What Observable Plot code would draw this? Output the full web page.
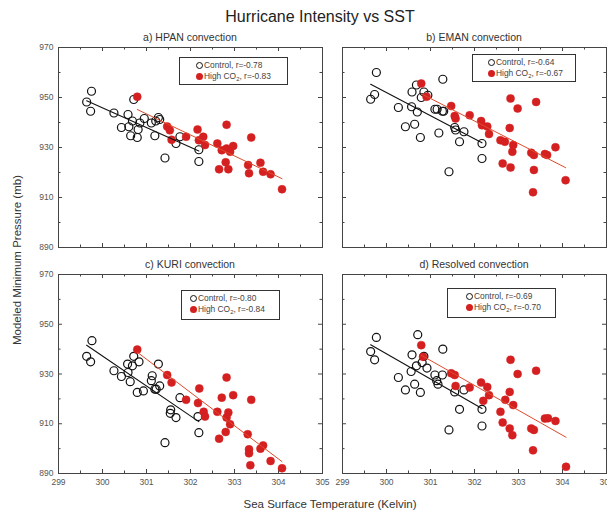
<!DOCTYPE html>
<html>
<head>
<meta charset="utf-8">
<script src="https://cdn.jsdelivr.net/npm/d3@7"></script>
<script src="https://cdn.jsdelivr.net/npm/@observablehq/plot@0.6"></script>
<style>
  html, body { margin: 0; padding: 0; background: #fff; }
  #wrap { position: relative; width: 607px; height: 523px; font-family: "Liberation Sans", Arial, sans-serif; color: #222; overflow: hidden; }
  .abs { position: absolute; }
  .title { left: 0; width: 640px; top: 8px; text-align: center; font-size: 16px; }
  .ptitle { font-size: 10.5px; text-align: center; color: #333; line-height: 12px; }
  .legend { border: 1px solid #333; background: #fff; font-size: 8.4px; color: #444; box-sizing: border-box; }
  .row { position: absolute; white-space: nowrap; line-height: 10px; }
  .sym { display: inline-block; width: 7px; height: 7px; border-radius: 50%; box-sizing: border-box; vertical-align: -1px; margin-right: 1px; }
  .sym.c { border: 1.3px solid #111; }
  .sym.h { background: #d42020; }
  sub { font-size: 6px; vertical-align: -1.5px; }
  .xlabel { left: 130px; width: 400px; top: 498px; text-align: center; font-size: 11.5px; color: #333; }
  .ylabel { left: 17px; top: 260px; transform: translate(-50%, -50%) rotate(-90deg); white-space: nowrap; font-size: 11.5px; color: #333; }
</style>
</head>
<body>
<div id="wrap"></div>
<script>
// ---------- data (SST in Kelvin, minimum pressure in mb) ----------
const panelTitles = ["a) HPAN convection", "b) EMAN convection", "c) KURI convection", "d) Resolved convection"];
const controlR = ["-0.78", "-0.64", "-0.80", "-0.69"];
const highR = ["-0.83", "-0.67", "-0.84", "-0.70"];
const xTicks = [299, 300, 301, 302, 303, 304, 305];
const xMinorTicks = [299.5, 300.5, 301.5, 302.5, 303.5, 304.5];
const yTicks = [890, 910, 930, 950, 970];
const yMinorTicks = [900, 920, 940, 960];

const hpanControl = [[299.64,948.2],[299.75,952.5],[299.73,944.5],[300.26,943.8],[300.58,943.2],[300.71,949.2],[300.43,938],[300.6,938.3],[300.64,934.7],[300.79,934],[300.81,937.2],[300.68,940.6],[300.85,939.8],[300.95,941.6],[301.11,939.8],[301.21,940.6],[301.27,942],[301.3,941.2],[301.19,934.7],[301.42,925.8],[301.67,931.6],[301.76,934.3],[302.19,929.1],[302.19,924.4]];
const hpanHigh = [[300.79,950.3],[301.47,938.4],[301.53,936.9],[301.57,933.1],[301.9,934.3],[302.16,937.2],[302.19,932.9],[302.29,934.3],[302.33,931],[302.61,931.6],[302.71,928.9],[302.82,939.1],[302.82,929.6],[302.9,928.3],[302.97,930.6],[302.8,924.1],[302.65,921.3],[302.86,921.3],[303.38,934],[303.31,923],[303.33,919.7],[303.59,923.9],[303.65,920.3],[303.82,919.3],[304.08,913.3]];

const emanControl = [[299.64,949.3],[299.73,951.2],[299.77,960],[300.27,946],[300.43,938.3],[300.64,939.3],[300.77,934],[300.57,946.3],[300.58,952.2],[300.7,944.2],[300.68,955],[300.79,950],[300.85,952.2],[300.94,950.9],[301.1,945.3],[301.15,945.3],[301.27,944.5],[301.3,944.5],[301.28,957.3],[301.19,935.8],[301.55,938],[301.57,937],[301.76,936.3],[301.66,932.3],[302.17,931.6],[302.17,925.6],[301.42,920.3]];
const emanHigh = [[300.79,955.6],[300.91,950.3],[301.47,946.6],[301.55,942.6],[301.57,941.6],[301.89,942.9],[302.15,940.6],[302.17,938.9],[302.29,938.4],[302.33,935.4],[302.59,932.9],[302.69,932.3],[302.82,949.6],[302.8,937.8],[302.98,945.6],[302.88,931],[302.86,928.3],[302.64,923.6],[302.82,922],[303.29,927.9],[303.35,927],[303.4,948.2],[303.35,921],[303.33,912.1],[303.6,927.4],[303.65,927],[303.84,930.1],[304.07,916.9]];

const kuriControl = [[299.64,937.1],[299.73,934.9],[299.76,943.4],[300.26,931.3],[300.43,929],[300.58,930.6],[300.57,934],[300.63,926.9],[300.68,933.3],[300.71,937.1],[300.79,922.6],[300.83,934.9],[300.93,923.2],[301.11,927.3],[301.13,929.3],[301.19,923.9],[301.22,923.9],[301.27,934],[301.3,925.2],[301.55,915.6],[301.54,914.2],[301.67,912.5],[301.76,920.5],[301.42,902.4],[302.17,912.9],[302.19,906.4]];
const kuriHigh = [[300.79,939.8],[301.47,929.6],[301.57,926.6],[301.9,919.6],[302.2,924.2],[302.17,918.3],[302.3,914.8],[302.33,912.9],[302.61,914.8],[302.65,904],[302.71,920.5],[302.82,928.6],[302.86,914.5],[302.82,912.5],[302.9,909.8],[302.8,906.7],[302.97,921.5],[303.3,905.8],[303.33,899.7],[303.33,898.1],[303.36,893.3],[303.38,919.6],[303.59,900],[303.65,901.3],[303.82,895],[304.08,892.1]];

const resolvedControl = [[299.64,939],[299.73,935.7],[299.77,944.7],[300.27,928.6],[300.43,923.6],[300.58,937.7],[300.56,931],[300.64,925.9],[300.68,933.3],[300.71,945.8],[300.77,922.6],[300.81,934.6],[300.85,937.1],[300.92,932.4],[301.1,929.6],[301.14,927.3],[301.17,925.9],[301.27,929.6],[301.28,940],[301.42,907.5],[301.55,922.8],[301.66,915.8],[301.76,923.6],[302.17,915.8],[302.17,909.1]];
const resolvedHigh = [[300.79,941.6],[300.83,936.9],[301.47,930.3],[301.55,929.6],[301.57,925.2],[301.89,924.6],[302.15,926.6],[302.29,924.8],[302.2,919.2],[302.33,921.5],[302.59,914.8],[302.64,910.5],[302.7,919.6],[302.8,922.8],[302.82,935.7],[302.88,917.5],[302.8,908.1],[302.86,905.4],[302.98,930],[303.29,908.1],[303.35,907.5],[303.33,899.3],[303.4,931.3],[303.6,912.1],[303.67,912.2],[303.84,911.1],[304.08,892.7]];

const controlSets = [hpanControl, emanControl, kuriControl, resolvedControl];
const highSets = [hpanHigh, emanHigh, kuriHigh, resolvedHigh];

// ---------- layout ----------
const wrap = document.getElementById("wrap");
const PW = 264;
const panels = [
  {left: 0,   top: 27,  ml: 58, mr: 8, mt: 20, ph: 200, mb: 4,  showY: true,  showX: false, leg: {x: 179, y: 57, w: 109, h: 28, pad: 21}},
  {left: 330, top: 27,  ml: 12, mr: 1, mt: 20, ph: 200, mb: 4,  showY: false, showX: false, leg: {x: 472, y: 54, w: 104, h: 28, pad: 20}},
  {left: 0,   top: 254, ml: 58, mr: 8, mt: 20, ph: 199, mb: 22, showY: true,  showX: true,  leg: {x: 181, y: 290, w: 99, h: 30, pad: 13}},
  {left: 330, top: 254, ml: 12, mr: 1, mt: 20, ph: 199, mb: 22, showY: false, showX: true,  leg: {x: 447, y: 288, w: 109, h: 30, pad: 23}}
];

function el(cls, html, css) {
  const d = document.createElement("div");
  d.className = "abs " + cls;
  d.innerHTML = html;
  Object.assign(d.style, css || {});
  wrap.appendChild(d);
  return d;
}

el("title", "Hurricane Intensity vs SST");

panels.forEach((p, i) => {
  const W = p.ml + PW + p.mr;
  const H = p.mt + p.ph + p.mb;
  const tk = 4, tkm = 2.5;
  const chart = Plot.plot({
    width: W, height: H,
    marginLeft: p.ml, marginRight: p.mr, marginTop: p.mt, marginBottom: p.mb,
    x: {domain: [299, 305], axis: p.showX ? undefined : null},
    y: {domain: [890, 970], axis: p.showY ? undefined : null},
    style: {fontFamily: "Liberation Sans, Arial, sans-serif", fontSize: "8.5px", color: "#555", background: "transparent", overflow: "visible"},
    marks: [
      // inward ticks, all four sides
      Plot.ruleX(xTicks, {x: d => d, insetTop: p.ph - tk, stroke: "#444"}),
      Plot.ruleX(xTicks, {x: d => d, insetBottom: p.ph - tk, stroke: "#444"}),
      Plot.ruleX(xMinorTicks, {x: d => d, insetTop: p.ph - tkm, stroke: "#444"}),
      Plot.ruleX(xMinorTicks, {x: d => d, insetBottom: p.ph - tkm, stroke: "#444"}),
      Plot.ruleY(yTicks, {y: d => d, insetRight: PW - tk, stroke: "#444"}),
      Plot.ruleY(yTicks, {y: d => d, insetLeft: PW - tk, stroke: "#444"}),
      Plot.ruleY(yMinorTicks, {y: d => d, insetRight: PW - tkm, stroke: "#444"}),
      Plot.ruleY(yMinorTicks, {y: d => d, insetLeft: PW - tkm, stroke: "#444"}),
      p.showX ? Plot.axisX(xTicks, {anchor: "bottom", tickSize: 0, tickPadding: 5, label: null, tickFormat: d => String(d)}) : null,
      p.showY ? Plot.axisY(yTicks, {anchor: "left", tickSize: 0, tickPadding: 5, label: null, tickFormat: d => String(d)}) : null,
      Plot.dot(controlSets[i], {x: d => d[0], y: d => d[1], r: 4, stroke: "#111", strokeWidth: 1.2, fill: "none"}),
      Plot.dot(highSets[i], {x: d => d[0], y: d => d[1], r: 4, fill: "#d42020", stroke: "#d42020", strokeWidth: 0.5}),
      Plot.linearRegressionY(controlSets[i], {x: d => d[0], y: d => d[1], stroke: "#111", strokeWidth: 1.1, ci: 0}),
      Plot.linearRegressionY(highSets[i], {x: d => d[0], y: d => d[1], stroke: "#e04a2a", strokeWidth: 1, ci: 0}),
      Plot.frame({stroke: "#444", strokeWidth: 1})
    ]
  });
  chart.style.position = "absolute";
  chart.style.left = p.left + "px";
  chart.style.top = p.top + "px";
  wrap.appendChild(chart);

  // panel title
  el("ptitle", panelTitles[i], {left: (p.left + p.ml) + "px", width: PW + "px", top: (p.top + p.mt - 16) + "px"});

  // legend box
  const L = p.leg;
  const box = el("legend", "", {left: L.x + "px", top: L.y + "px", width: L.w + "px", height: L.h + "px"});
  const r1 = document.createElement("div");
  r1.className = "row";
  r1.style.left = (L.pad - 5) + "px"; r1.style.top = "2px";
  r1.innerHTML = '<span class="sym c"></span>Control, r=' + controlR[i];
  const r2 = document.createElement("div");
  r2.className = "row";
  r2.style.left = (L.pad - 5) + "px"; r2.style.top = "13px";
  r2.innerHTML = '<span class="sym h"></span>High CO<sub>2</sub>, r=' + highR[i];
  box.appendChild(r1); box.appendChild(r2);
});

el("xlabel", "Sea Surface Temperature (Kelvin)");
el("ylabel", "Modeled Minimum Pressure (mb)");
</script>
</body>
</html>
